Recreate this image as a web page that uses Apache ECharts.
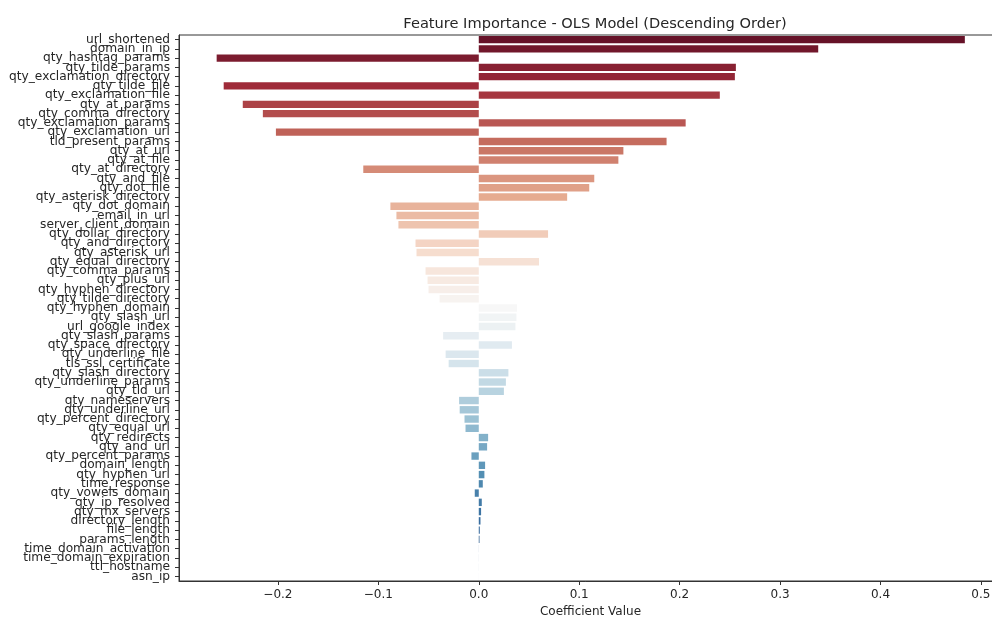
<!DOCTYPE html>
<html>
<head>
<meta charset="utf-8">
<title>Feature Importance - OLS Model</title>
<script src="https://cdn.jsdelivr.net/npm/echarts@6/dist/echarts.min.js"></script>
<style>
  html, body { margin: 0; padding: 0; background: #ffffff; }
  #chart { width: 992px; height: 618px; }
</style>
</head>
<body>
<div id="chart"></div>
<script>
// OLS coefficients per feature, sorted by absolute value (largest first)
const features = [
  'url_shortened', 'domain_in_ip', 'qty_hashtag_params', 'qty_tilde_params',
  'qty_exclamation_directory', 'qty_tilde_file', 'qty_exclamation_file', 'qty_at_params',
  'qty_comma_directory', 'qty_exclamation_params', 'qty_exclamation_url', 'tld_present_params',
  'qty_at_url', 'qty_at_file', 'qty_at_directory', 'qty_and_file',
  'qty_dot_file', 'qty_asterisk_directory', 'qty_dot_domain', 'email_in_url',
  'server_client_domain', 'qty_dollar_directory', 'qty_and_directory', 'qty_asterisk_url',
  'qty_equal_directory', 'qty_comma_params', 'qty_plus_url', 'qty_hyphen_directory',
  'qty_tilde_directory', 'qty_hyphen_domain', 'qty_slash_url', 'url_google_index',
  'qty_slash_params', 'qty_space_directory', 'qty_underline_file', 'tls_ssl_certificate',
  'qty_slash_directory', 'qty_underline_params', 'qty_tld_url', 'qty_nameservers',
  'qty_underline_url', 'qty_percent_directory', 'qty_equal_url', 'qty_redirects',
  'qty_and_url', 'qty_percent_params', 'domain_length', 'qty_hyphen_url',
  'time_response', 'qty_vowels_domain', 'qty_ip_resolved', 'qty_mx_servers',
  'directory_length', 'file_length', 'params_length', 'time_domain_activation',
  'time_domain_expiration', 'ttl_hostname', 'asn_ip'
];

const coefficients = [
  0.484, 0.338, -0.261, 0.256,
  0.255, -0.254, 0.240, -0.235,
  -0.215, 0.206, -0.202, 0.187,
  0.144, 0.139, -0.115, 0.115,
  0.110, 0.088, -0.088, -0.082,
  -0.080, 0.069, -0.063, -0.062,
  0.060, -0.053, -0.051, -0.050,
  -0.039, 0.038, 0.0375, 0.0365,
  -0.0355, 0.033, -0.033, -0.030,
  0.0295, 0.027, 0.025, -0.0196,
  -0.019, -0.0142, -0.0132, 0.0093,
  0.0083, -0.0073, 0.0063, 0.0056,
  0.004, -0.004, 0.003, 0.0023,
  0.0017, 0.001, 0.0007, 0.00005,
  0.00003, 0.00002, 0.00001
];

const xTickValues = [-0.2, -0.1, 0.0, 0.1, 0.2, 0.3, 0.4, 0.5];

// Diverging red-to-blue palette, sampled evenly and softened
const RDBU = [
  [103, 0, 31], [178, 24, 43], [214, 96, 77], [244, 165, 130], [253, 219, 199],
  [247, 247, 247], [209, 229, 240], [146, 197, 222], [67, 147, 195], [33, 102, 172], [5, 48, 97]
];

function rdbu(t) {
  const pos = t * (RDBU.length - 1);
  const i = Math.min(Math.floor(pos), RDBU.length - 2);
  const f = pos - i;
  return RDBU[i].map((c, k) => (c + (RDBU[i + 1][k] - c) * f) / 255);
}

function desaturate(rgb, prop) {
  const [r, g, b] = rgb;
  const mx = Math.max(r, g, b), mn = Math.min(r, g, b);
  const l = (mx + mn) / 2;
  if (mx === mn) return rgb;
  const d = mx - mn;
  let s = l <= 0.5 ? d / (mx + mn) : d / (2 - mx - mn);
  let h;
  if (mx === r) h = ((g - b) / d) % 6;
  else if (mx === g) h = (b - r) / d + 2;
  else h = (r - g) / d + 4;
  h /= 6; if (h < 0) h += 1;
  s *= prop;
  const q = l <= 0.5 ? l * (1 + s) : l + s - l * s;
  const p = 2 * l - q;
  const hue = (t) => {
    t = (t % 1 + 1) % 1;
    if (t < 1 / 6) return p + (q - p) * 6 * t;
    if (t < 0.5) return q;
    if (t < 2 / 3) return p + (q - p) * (2 / 3 - t) * 6;
    return p;
  };
  return [hue(h + 1 / 3), hue(h), hue(h - 1 / 3)];
}

function toHex(rgb) {
  return '#' + rgb.map(v => Math.round(Math.max(0, Math.min(1, v)) * 255).toString(16).padStart(2, '0')).join('');
}

const n = features.length;
const barData = coefficients.map((v, i) => ({
  value: v,
  itemStyle: { color: toHex(desaturate(rdbu((i + 1) / (n + 1)), 0.75)) }
}));

const textColor = '#262626';
const spineColor = '#333333';
const fontFamily = '"DejaVu Sans", sans-serif';

const chart = echarts.init(document.getElementById('chart'), null, { renderer: 'canvas' });
chart.setOption({
  animation: false,
  backgroundColor: '#ffffff',
  title: {
    text: 'Feature Importance - OLS Model (Descending Order)',
    left: 590, top: 12, textAlign: 'center',
    textStyle: { fontFamily, fontSize: 14.6, fontWeight: 'normal', color: textColor }
  },
  grid: {
    left: 179, top: 35, right: -10, bottom: 37,
    outerBoundsMode: 'none',
    containLabel: false,
    show: true, borderColor: spineColor, borderWidth: 1, backgroundColor: 'transparent'
  },
  xAxis: {
    type: 'value',
    min: -0.2985, max: 0.521,
    name: 'Coefficient Value',
    nameLocation: 'middle',
    nameGap: 24,
    nameTextStyle: { fontFamily, fontSize: 12, color: textColor },
    axisLine: { show: true, onZero: false, lineStyle: { color: spineColor, width: 1 } },
    axisTick: { show: true, length: 4, lineStyle: { color: spineColor }, customValues: xTickValues },
    axisLabel: {
      fontFamily, fontSize: 12, color: textColor, margin: 8,
      customValues: xTickValues,
      formatter: v => v.toFixed(1).replace('-', '\u2212')
    },
    splitLine: { show: false }
  },
  yAxis: {
    type: 'category',
    inverse: true,
    data: features,
    axisLine: { show: true, onZero: false, lineStyle: { color: spineColor, width: 1 } },
    axisTick: { show: true, length: 4, alignWithLabel: true, lineStyle: { color: spineColor } },
    axisLabel: { fontFamily, fontSize: 12.2, color: textColor, margin: 9, interval: 0 },
    splitLine: { show: false }
  },
  series: [{
    type: 'bar',
    data: barData,
    barWidth: '80%',
    itemStyle: { borderWidth: 0 }
  }]
});
</script>
</body>
</html>
